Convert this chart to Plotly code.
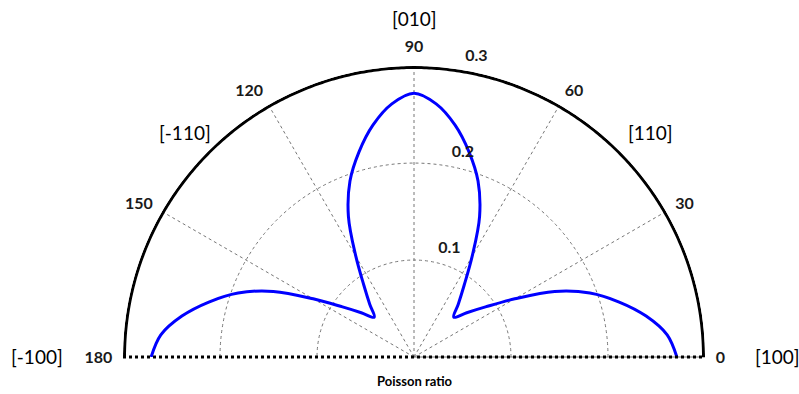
import numpy as np
import plotly.graph_objects as go

# Poisson ratio in the (001) plane, sampled every 5 degrees from [100] to [-100]
angle_deg = [0, 5, 10, 15, 20, 25, 30, 35, 40, 45, 50, 55, 60, 65, 70, 75, 80, 85, 90,
             95, 100, 105, 110, 115, 120, 125, 130, 135, 140, 145, 150, 155, 160, 165, 170, 175, 180]
poisson = [0.271, 0.262, 0.243, 0.219, 0.193, 0.160, 0.120, 0.090, 0.071, 0.058,
           0.071, 0.090, 0.120, 0.160, 0.193, 0.219, 0.243, 0.262, 0.272,
           0.262, 0.243, 0.219, 0.193, 0.160, 0.120, 0.090, 0.071, 0.058,
           0.071, 0.090, 0.120, 0.160, 0.193, 0.219, 0.243, 0.262, 0.271]

angle_ticks = [0, 30, 60, 90, 120, 150, 180]
radial_ticks = [0.1, 0.2, 0.3]
r_max = 0.3

# crystal directions written around the half circle: (text, x, y) in paper px
direction_labels = [("[010]", 415, 18), ("[110]", 650, 133), ("[-110]", 185, 133),
                    ("[100]", 777, 356), ("[-100]", 37, 356)]

W, H = 799, 394
FONT = "Lato"

# geometry of the half disc, in px
CX, CY, R = 414, 357, 291
FRAME_W = 3
# radial tick labels are written a little further out than their grid circle
LABEL_SHIFT = 17
R2 = R + LABEL_SHIFT
r2_min = -LABEL_SHIFT * r_max / R


def domain(radius):
    return dict(x=[(CX - radius) / W, (CX + radius) / W],
                y=[(H - CY) / H, (H - CY + radius) / H])


tick_font = dict(family=FONT, size=16, color="#1a1a1a", weight="bold")
grid_style = dict(showgrid=True, gridcolor="#777777", griddash="dot", gridwidth=1)

fig = go.Figure()

# outer frame arc, pulled in by half its width so the sector clip keeps all of it
arc_theta = np.linspace(0, 180, 361)
arc_r = r_max * (1 - (FRAME_W / 2) / R)
fig.add_trace(go.Scatterpolar(
    r=np.full_like(arc_theta, arc_r), theta=arc_theta, mode="lines",
    line=dict(color="black", width=FRAME_W), hoverinfo="skip", showlegend=False))

fig.add_trace(go.Scatterpolar(
    r=poisson, theta=angle_deg, mode="lines", name="Poisson ratio",
    line=dict(color="#0000ff", width=3, shape="spline", smoothing=1.0),
    showlegend=False))

# empty trace that carries the labelled radial axis
fig.add_trace(go.Scatterpolar(r=[], theta=[], subplot="polar2", showlegend=False))

fig.update_layout(
    width=W, height=H,
    margin=dict(l=0, r=0, t=0, b=0),
    paper_bgcolor="white",
    polar=dict(
        bgcolor="white",
        sector=[0, 180],
        domain=domain(R),
        radialaxis=dict(range=[0, r_max], tickvals=radial_ticks, showticklabels=False,
                        showline=False, ticks="", **grid_style),
        angularaxis=dict(
            direction="counterclockwise", rotation=0,
            tickvals=angle_ticks, ticktext=[str(v) for v in angle_ticks],
            ticks="outside", ticklen=7, tickcolor="rgba(0,0,0,0)",
            showline=False, tickfont=tick_font, **grid_style),
    ),
    polar2=dict(
        bgcolor="rgba(0,0,0,0)",
        sector=[0, 180],
        domain=domain(R2),
        radialaxis=dict(
            range=[r2_min, r_max], tickvals=radial_ticks,
            ticktext=[f"{v:.1f}" for v in radial_ticks],
            angle=82, tickangle=82, side="clockwise", showline=False, ticks="",
            showgrid=False, tickfont=tick_font),
        angularaxis=dict(visible=False, showgrid=False, showline=False),
    ),
)

# dotted base line along the 0-180 degree diameter
fig.add_shape(type="line", xref="paper", yref="paper",
              x0=(CX - R) / W, x1=(CX + R) / W, y0=1 - CY / H, y1=1 - CY / H,
              line=dict(color="black", width=3, dash="dot"), layer="above")

for text, x, y in direction_labels:
    fig.add_annotation(text=text, x=x / W, y=1 - y / H, xref="paper", yref="paper",
                       showarrow=False, xanchor="center", yanchor="middle",
                       font=dict(family=FONT, size=19, color="#000000"))

fig.add_annotation(text="Poisson ratio", x=415 / W, y=1 - 381 / H, xref="paper", yref="paper",
                   showarrow=False, xanchor="center", yanchor="middle",
                   font=dict(family=FONT, size=13, color="#000000", weight="bold"))

fig.write_html("out.html")
